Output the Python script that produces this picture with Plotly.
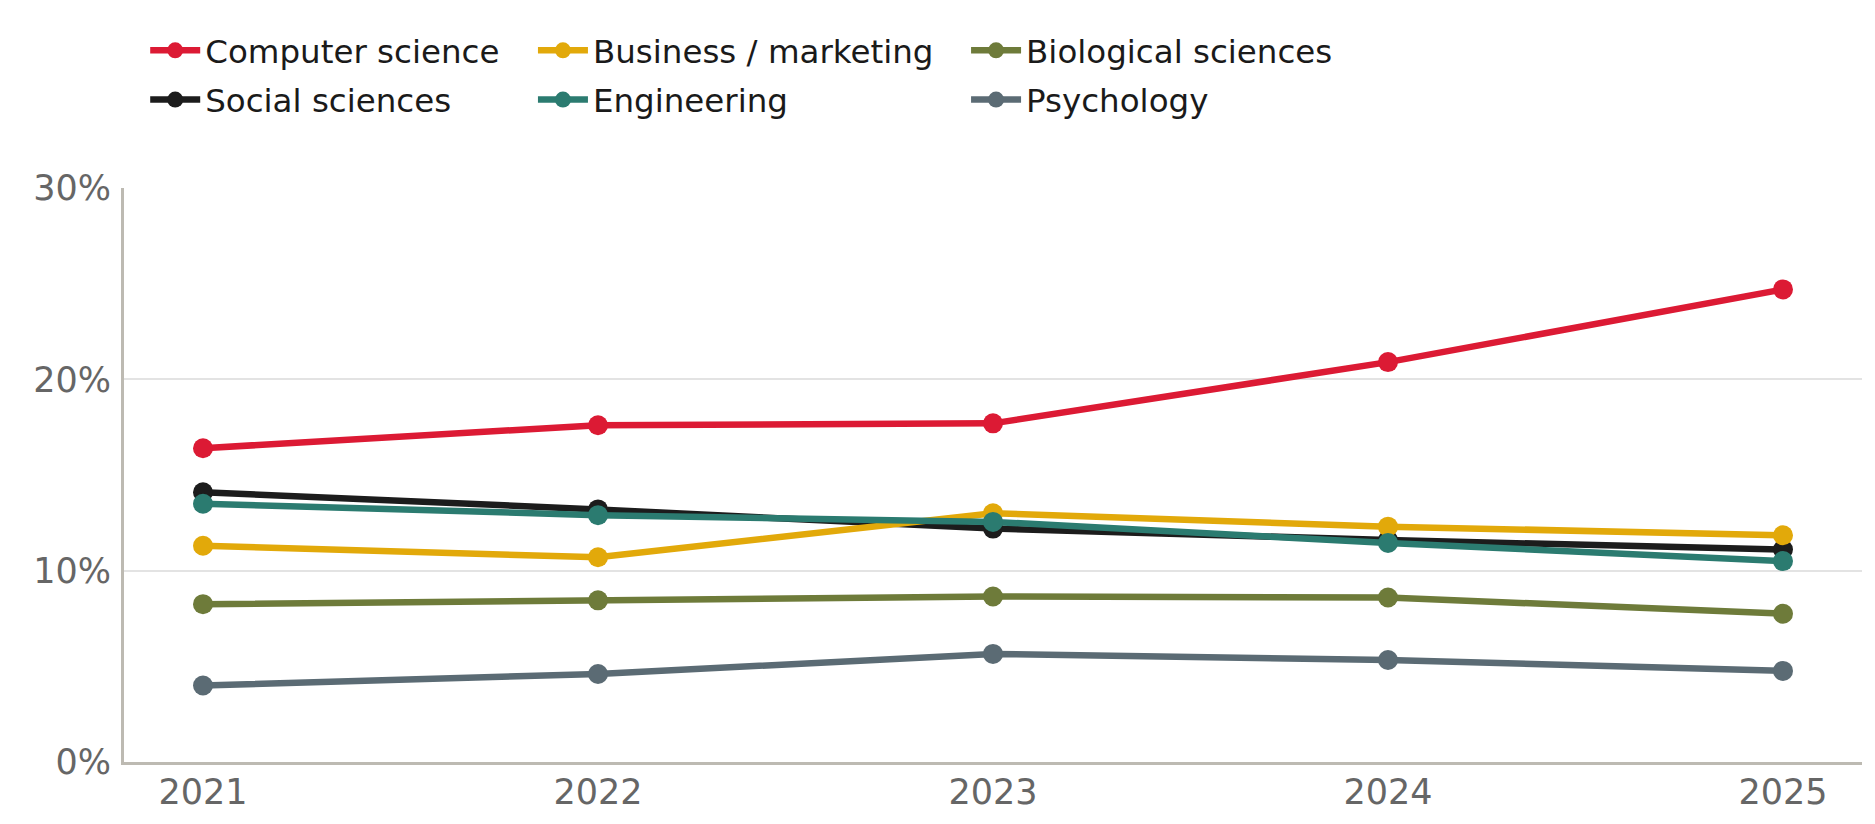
import plotly.graph_objects as go

years = [2021, 2022, 2023, 2024, 2025]

computer_science = [16.4, 17.6, 17.7, 20.9, 24.7]
social_sciences = [14.1, 13.2, 12.2, 11.6, 11.1]
business_marketing = [11.3, 10.7, 13.0, 12.3, 11.85]
engineering = [13.5, 12.9, 12.55, 11.45, 10.5]
biological_sciences = [8.25, 8.45, 8.65, 8.6, 7.75]
psychology = [4.0, 4.6, 5.65, 5.33, 4.76]

y_ticks = [0, 10, 20, 30]
y_tick_labels = ["0%", "10%", "20%", "30%"]

# name, values, colour, legend column
series = [
    ("Computer science", computer_science, "#DC1A34", "legend"),
    ("Social sciences", social_sciences, "#1C1C1C", "legend"),
    ("Business / marketing", business_marketing, "#E2A90A", "legend2"),
    ("Engineering", engineering, "#2B7B70", "legend2"),
    ("Biological sciences", biological_sciences, "#6E7B3A", "legend3"),
    ("Psychology", psychology, "#5B6B74", "legend3"),
]

fig = go.Figure()
for name, vals, col, leg in series:
    fig.add_trace(go.Scatter(
        x=years, y=vals, name=name, mode="lines+markers",
        line=dict(color=col, width=6.5),
        marker=dict(color=col, size=20),
        legend=leg, legendgroup=name,
        hovertemplate="%{x}: %{y:.1f}%<extra>" + name + "</extra>",
    ))

font_family = "DejaVu Sans"
legend_style = dict(
    orientation="v", yanchor="top", y=1.288, xanchor="left",
    bgcolor="rgba(0,0,0,0)",
    font=dict(family=font_family, size=32.5, color="#1a1a1a"),
    tracegroupgap=4, itemwidth=50,
)

fig.update_layout(
    width=1875, height=824,
    paper_bgcolor="white", plot_bgcolor="white",
    margin=dict(l=116, r=21, t=180, b=70),
    font=dict(family=font_family, size=35, color="#666666"),
    showlegend=True,
    legend=dict(legend_style, x=0.0122),
    legend2=dict(legend_style, x=0.2353),
    legend3=dict(legend_style, x=0.4845),
    xaxis=dict(
        range=[2020.8, 2025.2], tickvals=years,
        showgrid=False, zeroline=False,
        showline=True, linecolor="#BDBAB2", linewidth=3,
        ticks="", ticklabelstandoff=-3,
        tickfont=dict(size=35, color="#666666"),
    ),
    yaxis=dict(
        range=[0, 30], tickvals=y_ticks, ticktext=y_tick_labels,
        showgrid=True, gridcolor="#E3E3E3", gridwidth=2,
        zeroline=False,
        showline=True, linecolor="#BDBAB2", linewidth=3,
        ticks="", ticklabelstandoff=3,
        tickfont=dict(size=35, color="#666666"),
    ),
)

fig.write_html("out.html")
